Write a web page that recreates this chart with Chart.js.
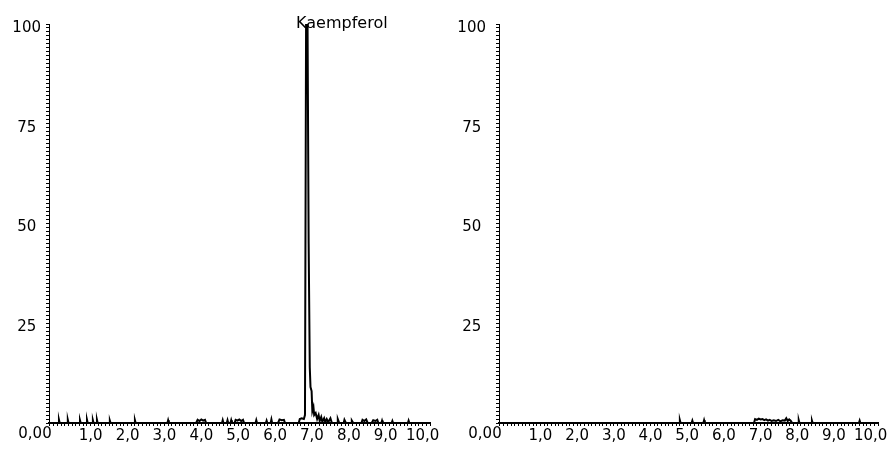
<!DOCTYPE html>
<html>
<head>
<meta charset="utf-8">
<script src="https://cdn.jsdelivr.net/npm/chart.js@4"></script>
<style>
body { margin: 0; background: #fff; }
.box { position: absolute; top: 0; height: 450px; }
#leftBox { left: 0; width: 445px; }
#rightBox { left: 445px; width: 448px; }
</style>
</head>
<body>
<div class="box" id="leftBox"><canvas id="leftChart"></canvas></div>
<div class="box" id="rightBox"><canvas id="rightChart"></canvas></div>
<script>
// retention time (min) and relative intensity (%)
var leftTimes = [
  0,
  0.12, 0.14, 0.16, 0.36, 0.38, 0.40, 0.69, 0.71, 0.73,
  0.88, 0.90, 0.92, 1.04, 1.06, 1.08, 1.15, 1.17, 1.19,
  1.50, 1.52, 1.54, 2.18, 2.20, 2.22, 3.08, 3.10, 3.12,
  3.86, 3.90, 3.95, 4.00, 4.05, 4.10, 4.13,
  4.56, 4.58, 4.60, 4.69, 4.71, 4.73, 4.79, 4.81, 4.83,
  4.90, 4.93, 4.98, 5.03, 5.08, 5.13, 5.16,
  5.47, 5.49, 5.51, 5.75, 5.77, 5.79, 5.88, 5.90, 5.92,
  6.08, 6.12, 6.18, 6.24, 6.27,
  6.64, 6.67, 6.72, 6.78, 6.81, 6.84, 6.88, 6.91, 6.94, 6.96, 6.99, 7.01, 7.04,
  7.06, 7.10, 7.14, 7.18, 7.21, 7.25, 7.28, 7.33, 7.36, 7.40, 7.44, 7.50, 7.54,
  7.68, 7.70, 7.74, 7.86, 7.88, 7.92, 8.06, 8.08, 8.12,
  8.34, 8.37, 8.42, 8.47, 8.51, 8.62, 8.66, 8.72, 8.77, 8.80,
  8.88, 8.90, 8.92, 9.16, 9.18, 9.20, 9.60, 9.62, 9.64,
  10.2
];
var leftValues = [
  0,
  0, 0.8, 0, 0, 0.8, 0, 0, 0.7, 0,
  0, 0.8, 0, 0, 0.7, 0, 0, 0.8, 0,
  0, 0.6, 0, 0, 0.7, 0, 0, 0.7, 0,
  0, 0.8, 0.5, 0.9, 0.6, 0.8, 0,
  0, 0.7, 0, 0, 0.7, 0, 0, 0.7, 0,
  0, 0.8, 0.6, 0.9, 0.5, 0.8, 0,
  0, 0.7, 0, 0, 0.6, 0, 0, 0.9, 0,
  0, 0.9, 0.7, 0.8, 0,
  0, 1.0, 1.2, 1.0, 2, 100, 100, 45, 14, 9, 8, 3, 4,
  2, 2.5, 1, 2, 0.5, 1.5, 0.3, 1.2, 0.2, 1, 0.2, 1.2, 0,
  0, 1, 0, 0, 0.8, 0, 0, 0.6, 0,
  0, 0.8, 0.5, 0.9, 0, 0, 0.7, 0.5, 0.8, 0,
  0, 0.6, 0, 0, 0.5, 0, 0, 0.6, 0,
  0
];
var rightTimes = [
  0,
  4.78, 4.80, 4.82, 5.12, 5.14, 5.16, 5.44, 5.46, 5.48,
  6.82, 6.85, 6.90, 6.95, 7.00, 7.05, 7.10, 7.15, 7.20, 7.25, 7.30,
  7.36, 7.42, 7.48, 7.54, 7.60, 7.66, 7.70, 7.74, 7.78, 7.82, 7.86,
  8.02, 8.04, 8.06, 8.38, 8.40, 8.42, 9.68, 9.70, 9.72,
  10.2
];
var rightValues = [
  0,
  0, 0.7, 0, 0, 0.6, 0, 0, 0.7, 0,
  0, 1.0, 0.8, 1.1, 0.9, 1.0, 0.7, 0.9, 0.6, 0.8, 0.5,
  0.7, 0.5, 0.8, 0.4, 0.7, 0.6, 1.2, 0.5, 0.9, 0.6, 0,
  0, 0.7, 0, 0, 0.6, 0, 0, 0.6, 0,
  0
];
var leftPeakNames = ['Kaempferol'];
var leftPeakTimes = [6.84];
var yLabelSteps = [25, 50, 75, 100];

Chart.defaults.font.family = 'DejaVu Sans';
Chart.defaults.color = '#000';

function toPoints(times, values) {
  return times.map(function (t, i) { return { x: t, y: values[i] }; });
}

// draws the "0,00" corner label and the peak names
var textPlugin = {
  id: 'traceText',
  afterDraw: function (chart) {
    var ctx = chart.ctx;
    var xs = chart.scales.x;
    var area = chart.chartArea;
    var o = chart.options.plugins.traceText;
    ctx.save();
    ctx.fillStyle = '#000';
    ctx.font = '15px "DejaVu Sans"';
    ctx.textAlign = 'center';
    ctx.textBaseline = 'top';
    ctx.fillText('0,00', area.left - 14, xs.top + 4);
    ctx.font = '16px "DejaVu Sans"';
    ctx.textAlign = 'left';
    ctx.textBaseline = 'alphabetic';
    o.names.forEach(function (name, i) {
      ctx.fillText(name, xs.getPixelForValue(o.times[i]) - 10, area.top + 4);
    });
    ctx.restore();
  }
};

function makeChart(id, times, values, names, peakTimes, axisWidth, labelPad) {
  return new Chart(document.getElementById(id), {
    type: 'line',
    data: {
      datasets: [{
        data: toPoints(times, values),
        borderColor: '#000',
        borderWidth: 2,
        pointRadius: 0,
        tension: 0,
        fill: false
      }]
    },
    options: {
      responsive: true,
      maintainAspectRatio: false,
      animation: false,
      layout: { padding: { top: 24, right: 15, left: 0, bottom: 0 } },
      plugins: {
        legend: { display: false },
        tooltip: { enabled: false },
        traceText: { names: names, times: peakTimes }
      },
      scales: {
        x: {
          type: 'linear',
          min: -0.13,
          max: 10.2,
          afterFit: function (scale) { scale.height = 27; },
          border: { display: true, color: '#000', width: 2 },
          grid: { drawOnChartArea: false, tickLength: 3, tickColor: '#000' },
          ticks: {
            stepSize: 0.1,
            autoSkip: false,
            maxRotation: 0,
            padding: 1,
            font: { size: 15 },
            callback: function (v) {
              if (v > 0.5 && Math.abs(v - Math.round(v)) < 1e-6) {
                return v.toFixed(1).replace('.', ',');
              }
              return '';
            }
          }
        },
        y: {
          min: 0,
          max: 100,
          afterFit: function (scale) { scale.width = axisWidth; },
          border: { display: true, color: '#000', width: 1 },
          grid: { drawOnChartArea: false, tickLength: 3, tickColor: '#000' },
          ticks: {
            stepSize: 1,
            autoSkip: false,
            crossAlign: 'center',
            padding: labelPad,
            labelOffset: 4,
            font: { size: 15 },
            callback: function (v) {
              return yLabelSteps.indexOf(v) >= 0 ? String(v) : '';
            }
          }
        }
      }
    },
    plugins: [textPlugin]
  });
}

makeChart('leftChart', leftTimes, leftValues, leftPeakNames, leftPeakTimes, 49, 5);
makeChart('rightChart', rightTimes, rightValues, [], [], 54, 10);
</script>
</body>
</html>
